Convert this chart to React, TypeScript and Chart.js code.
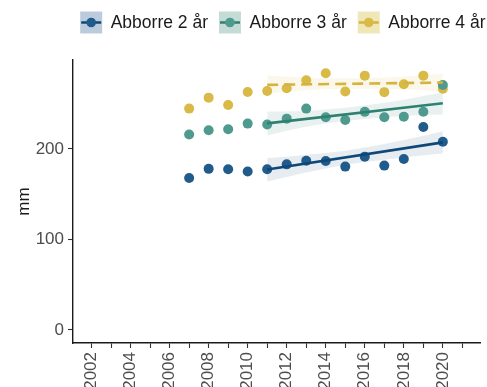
import React, { useEffect, useRef } from "react";
import { Chart, registerables } from "chart.js";

Chart.register(...registerables);

// ---------- data ----------
const seriesNames = ["Abborre 2 år", "Abborre 3 år", "Abborre 4 år"];
const years = [2007, 2008, 2009, 2010, 2011, 2012, 2013, 2014, 2015, 2016, 2017, 2018, 2019, 2020];
const abborre2 = [168, 178, 177.5, 175, 177.5, 183, 187, 186.7, 180.5, 191.5, 181.6, 189, 224.3, 208];
const abborre3 = [216, 220.6, 221.7, 228, 227, 233.5, 244.6, 235, 232, 241, 235, 235.7, 241.2, 270.7];
const abborre4 = [244.6, 256.7, 248.6, 263, 264, 267, 276, 283.6, 263.5, 281, 262.8, 271.5, 281, 266.5];

const trendYears = [2011, 2020];
const trend2 = [177.3, 207.3];
const trend3 = [228.3, 250.5];
const trend4 = [270.8, 273.4];

const bandYears = [2011, 2012, 2013, 2014, 2015, 2016, 2017, 2018, 2019, 2020];
const band2Lower = [164, 169, 174, 178.5, 182.5, 185.5, 188, 190.5, 193, 195];
const band2Upper = [190, 191.5, 193.5, 195.5, 198, 201.5, 205.5, 210, 214.5, 219.5];
const band3Lower = [215, 220, 224.5, 228, 231, 233, 235, 236.5, 237.5, 238];
const band3Upper = [241.5, 241.5, 242, 243.5, 245.5, 248, 251, 254.5, 258.5, 262.5];
const band4Lower = [261, 263, 265, 266, 266.5, 266.5, 266.5, 266, 265, 263];
const band4Upper = [281.5, 280, 278.5, 278, 278, 278.5, 279, 280, 281.5, 283.5];

const xTickYears = [2002, 2003, 2004, 2005, 2006, 2007, 2008, 2009, 2010, 2011, 2012, 2013, 2014, 2015, 2016, 2017, 2018, 2019, 2020, 2021];
const yTickValues = [0, 100, 200];

// ---------- styles ----------
const pointColors = ["#215b8b", "#4f9a8e", "#d9ba46"];
const lineColors = ["#0d4878", "#2e8170", "#d4b43c"];
const bandColors = ["rgba(60,100,140,0.12)", "rgba(70,140,130,0.12)", "rgba(220,190,60,0.10)"];
const legendBoxColors = ["#bccbdb", "#c5dcd6", "#f0e7b9"];
const FONT = "'Liberation Sans', Arial, Helvetica, sans-serif";

const toXY = (xs: number[], ys: number[]) => xs.map((x, i) => ({ x, y: ys[i] }));

const legendPlugin = {
  id: "customLegend",
  afterDraw(chart: any) {
    const ctx = chart.ctx as CanvasRenderingContext2D;
    const area = chart.chartArea;
    ctx.save();
    ctx.font = `17.5px ${FONT}`;
    const box = 22;
    const gapText = 8.5;
    const gapItem = 11;
    const widths = seriesNames.map((n) => ctx.measureText(n).width);
    const total = widths.reduce((a, w) => a + box + gapText + w, 0) + gapItem * (seriesNames.length - 1);
    let x = (area.left + area.right) / 2 - total / 2 + 6;
    const cy = 22.5;
    seriesNames.forEach((name, i) => {
      ctx.fillStyle = legendBoxColors[i];
      ctx.fillRect(x, cy - box / 2, box, box);
      ctx.strokeStyle = lineColors[i];
      ctx.lineWidth = 2.5;
      ctx.beginPath();
      ctx.moveTo(x + 1, cy);
      ctx.lineTo(x + box - 1, cy);
      ctx.stroke();
      ctx.fillStyle = pointColors[i];
      ctx.beginPath();
      ctx.arc(x + box / 2, cy, 4.8, 0, Math.PI * 2);
      ctx.fill();
      ctx.fillStyle = "#1a1a1a";
      ctx.textBaseline = "middle";
      ctx.textAlign = "left";
      ctx.fillText(name, x + box + gapText, cy + 1);
      x += box + gapText + widths[i] + gapItem;
    });
    ctx.restore();
  },
};

export default function App() {
  const canvasRef = useRef<HTMLCanvasElement | null>(null);

  useEffect(() => {
    document.body.style.margin = "0";
    const canvas = canvasRef.current;
    if (!canvas) return;

    const series = [abborre2, abborre3, abborre4];
    const trends = [trend2, trend3, trend4];
    const bands = [
      [band2Lower, band2Upper],
      [band3Lower, band3Upper],
      [band4Lower, band4Upper],
    ];

    const datasets: any[] = [];
    series.forEach((_, i) => {
      datasets.push({
        label: seriesNames[i] + " lower",
        data: toXY(bandYears, bands[i][0]),
        showLine: true,
        borderWidth: 0,
        borderColor: "rgba(0,0,0,0)",
        pointRadius: 0,
        fill: false,
        order: 3,
      });
      datasets.push({
        label: seriesNames[i] + " band",
        data: toXY(bandYears, bands[i][1]),
        showLine: true,
        borderWidth: 0,
        borderColor: "rgba(0,0,0,0)",
        backgroundColor: bandColors[i],
        pointRadius: 0,
        fill: "-1",
        order: 3,
      });
    });
    series.forEach((vals, i) => {
      datasets.push({
        label: seriesNames[i],
        data: toXY(years, vals),
        showLine: false,
        pointRadius: 5,
        pointBorderWidth: 0,
        pointBackgroundColor: pointColors[i],
        pointBorderColor: pointColors[i],
        order: 2,
      });
    });
    series.forEach((_, i) => {
      datasets.push({
        label: seriesNames[i] + " trend",
        data: toXY(trendYears, trends[i]),
        showLine: true,
        borderColor: lineColors[i],
        borderWidth: 2.6,
        borderDash: i === 2 ? [11, 6] : [],
        pointRadius: 0,
        fill: false,
        order: 1,
      });
    });

    const chart = new Chart(canvas, {
      type: "line",
      data: { datasets },
      plugins: [legendPlugin],
      options: {
        responsive: false,
        animation: false,
        devicePixelRatio: 1,
        layout: { padding: { top: 60, right: 2, left: 0, bottom: 0 } },
        plugins: {
          legend: { display: false },
          tooltip: { enabled: false },
        },
        scales: {
          x: {
            type: "linear",
            min: 2001.05,
            max: 2021.94,
            afterFit: (scale: any) => {
              scale.height = 44;
            },
            afterBuildTicks: (scale: any) => {
              scale.ticks = xTickYears.map((v) => ({ value: v }));
            },
            grid: {
              drawOnChartArea: false,
              drawTicks: true,
              tickLength: 5,
              tickColor: "#333333",
              tickWidth: 1.1,
            },
            border: { display: true, color: "#1a1a1a", width: 1.4 },
            ticks: {
              autoSkip: false,
              minRotation: 90,
              maxRotation: 90,
              padding: 4,
              color: "#4d4d4d",
              font: { family: FONT, size: 17 },
              callback: (v: any) => (Number(v) % 2 === 0 ? String(v) : ""),
            },
          },
          y: {
            type: "linear",
            min: -14.4,
            max: 298.3,
            afterFit: (scale: any) => {
              scale.width = 73;
            },
            afterBuildTicks: (scale: any) => {
              scale.ticks = yTickValues.map((v) => ({ value: v }));
            },
            grid: {
              drawOnChartArea: false,
              drawTicks: true,
              tickLength: 5,
              tickColor: "#333333",
              tickWidth: 1.1,
            },
            border: { display: true, color: "#1a1a1a", width: 1.4 },
            ticks: {
              padding: 4,
              color: "#4d4d4d",
              font: { family: FONT, size: 17 },
            },
            title: {
              display: true,
              text: "mm",
              color: "#1a1a1a",
              font: { family: FONT, size: 17 },
              padding: { top: 14, bottom: 0 },
            },
          },
        },
      } as any,
    });

    return () => {
      chart.destroy();
    };
  }, []);

  return (
    <div style={{ width: 487, height: 387, background: "#ffffff" }}>
      <canvas ref={canvasRef} width={487} height={387} />
    </div>
  );
}
